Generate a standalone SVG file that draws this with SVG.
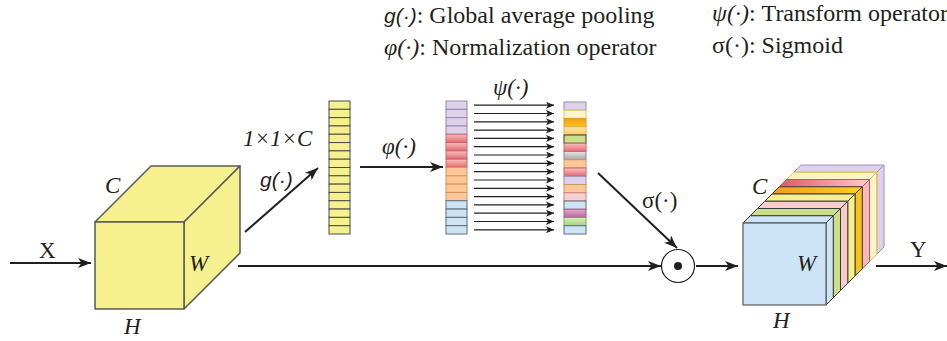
<svg xmlns="http://www.w3.org/2000/svg" width="947" height="341" viewBox="0 0 947 341">
<style>
.t{font-family:"Liberation Serif","Times New Roman",serif;font-size:23px;fill:#231f20}
.lg{font-size:24px}
.i{font-style:italic}
.s{font-family:"Liberation Sans",Arial,sans-serif;font-style:italic;font-size:21px;fill:#231f20}
.ln{stroke:#231f20;stroke-width:2;fill:none}
.sm{stroke:#231f20;stroke-width:1.2;fill:none}
.cube{fill:#f6f08f;stroke:#5a5a5a;stroke-width:1.5;stroke-linejoin:round}
.ey{fill:#f6f08f;stroke:#4a4a4a;stroke-width:1}
.cp{fill:#ddd3e8;stroke:#9d84b8;stroke-width:1}
.cr{fill:url(#gr);stroke:#c9686e;stroke-width:1}
.co{fill:#fdc898;stroke:#d0985e;stroke-width:1}
.cb{fill:#cde3f6;stroke:#5e6e7a;stroke-width:1}
.lay{stroke-width:1;stroke-linejoin:round}
</style>
<defs>
<marker id="ah" markerUnits="userSpaceOnUse" markerWidth="14" markerHeight="10" refX="13" refY="5" orient="auto">
<path d="M0,0 L13,5 L0,10 L3.5,5 z" fill="#231f20"/>
</marker>
<marker id="as" markerUnits="userSpaceOnUse" markerWidth="8" markerHeight="7" refX="8" refY="3.5" orient="auto">
<path d="M0,0 L8,3.5 L0,7 L2,3.5 z" fill="#231f20"/>
</marker>
<linearGradient id="gr" x1="0" y1="0" x2="0" y2="1"><stop offset="0" stop-color="#f7c2c2"/><stop offset="1" stop-color="#e7666c"/></linearGradient>
<linearGradient id="gor" x1="0" y1="0" x2="0" y2="1"><stop offset="0" stop-color="#f59c1a"/><stop offset="1" stop-color="#fcc51d"/></linearGradient>
<linearGradient id="glo" x1="0" y1="0" x2="0" y2="1"><stop offset="0" stop-color="#fde6a8"/><stop offset="1" stop-color="#f8cc6a"/></linearGradient>
<linearGradient id="ggy" x1="0" y1="0" x2="0" y2="1"><stop offset="0" stop-color="#e6e6e6"/><stop offset="1" stop-color="#a4a4a4"/></linearGradient>
<linearGradient id="gmg" x1="0" y1="0" x2="0" y2="1"><stop offset="0" stop-color="#e3a9cc"/><stop offset="1" stop-color="#b6679b"/></linearGradient>
<linearGradient id="ggn" x1="0" y1="0" x2="0" y2="1"><stop offset="0" stop-color="#dcefc6"/><stop offset="1" stop-color="#a6cf7a"/></linearGradient>
<linearGradient id="hor" x1="0" y1="0" x2="1" y2="0"><stop offset="0" stop-color="#f39a1c"/><stop offset="1" stop-color="#fcd21f"/></linearGradient>
<linearGradient id="hrd" x1="0" y1="0" x2="1" y2="0"><stop offset="0" stop-color="#e5585f"/><stop offset="1" stop-color="#f9cdcd"/></linearGradient>
</defs>

<!-- legend -->
<g id="legend">
<text x="384" y="23"><tspan class="s">g(·)</tspan><tspan class="t lg">: Global average pooling</tspan></text>
<text x="384" y="55" class="t lg"><tspan class="i">φ(·)</tspan>: Normalization operator</text>
<text x="712" y="21" class="t lg"><tspan class="i">ψ(·)</tspan>: Transform operator</text>
<text x="712" y="53" class="t lg">σ(·): Sigmoid</text>
</g>

<!-- input cube -->
<g id="cubeX">
<polygon class="cube" points="95,222 151,166 240,166 184,222"/>
<polygon class="cube" points="184,222 240,166 240,253 184,309"/>
<rect class="cube" x="95" y="222" width="89" height="87"/>
<text x="105" y="193" class="t i">C</text>
<text x="189" y="271" class="t i">W</text>
<text x="124" y="334" class="t i">H</text>
</g>

<!-- pooled vector -->
<g id="vecG">
<rect class="ey" x="329" y="101" width="21" height="8.3125"/>
<rect class="ey" x="329" y="109.3125" width="21" height="8.3125"/>
<rect class="ey" x="329" y="117.625" width="21" height="8.3125"/>
<rect class="ey" x="329" y="125.9375" width="21" height="8.3125"/>
<rect class="ey" x="329" y="134.25" width="21" height="8.3125"/>
<rect class="ey" x="329" y="142.5625" width="21" height="8.3125"/>
<rect class="ey" x="329" y="150.875" width="21" height="8.3125"/>
<rect class="ey" x="329" y="159.1875" width="21" height="8.3125"/>
<rect class="ey" x="329" y="167.5" width="21" height="8.3125"/>
<rect class="ey" x="329" y="175.8125" width="21" height="8.3125"/>
<rect class="ey" x="329" y="184.125" width="21" height="8.3125"/>
<rect class="ey" x="329" y="192.4375" width="21" height="8.3125"/>
<rect class="ey" x="329" y="200.75" width="21" height="8.3125"/>
<rect class="ey" x="329" y="209.0625" width="21" height="8.3125"/>
<rect class="ey" x="329" y="217.375" width="21" height="8.3125"/>
<rect class="ey" x="329" y="225.6875" width="21" height="8.3125"/>
<text x="243" y="146" class="t i">1×1×C</text>
</g>

<!-- normalized vector -->
<g id="vecPhi">
<rect class="cp" x="446" y="101" width="21" height="8.3125"/>
<rect class="cp" x="446" y="109.3125" width="21" height="8.3125"/>
<rect class="cp" x="446" y="117.625" width="21" height="8.3125"/>
<rect class="cp" x="446" y="125.9375" width="21" height="8.3125"/>
<rect class="cr" x="446" y="134.25" width="21" height="8.3125"/>
<rect class="cr" x="446" y="142.5625" width="21" height="8.3125"/>
<rect class="cr" x="446" y="150.875" width="21" height="8.3125"/>
<rect class="cr" x="446" y="159.1875" width="21" height="8.3125"/>
<rect class="co" x="446" y="167.5" width="21" height="8.3125"/>
<rect class="co" x="446" y="175.8125" width="21" height="8.3125"/>
<rect class="co" x="446" y="184.125" width="21" height="8.3125"/>
<rect class="co" x="446" y="192.4375" width="21" height="8.3125"/>
<rect class="cb" x="446" y="200.75" width="21" height="8.3125"/>
<rect class="cb" x="446" y="209.0625" width="21" height="8.3125"/>
<rect class="cb" x="446" y="217.375" width="21" height="8.3125"/>
<rect class="cb" x="446" y="225.6875" width="21" height="8.3125"/>
</g>

<!-- transformed vector -->
<g id="vecPsi">
<rect class="cp" x="564" y="102" width="22" height="8.25"/>
<rect x="564" y="110.25" width="22" height="8.25" fill="#fff3c8" stroke="#e4c96a"/>
<rect x="564" y="118.5" width="22" height="8.25" fill="url(#gor)" stroke="#e09a20"/>
<rect x="564" y="126.75" width="22" height="8.25" fill="url(#glo)" stroke="#e4b458"/>
<rect x="564" y="135" width="22" height="8.25" fill="#c9df8a" stroke="#3a3a3a"/>
<rect class="cr" x="564" y="143.25" width="22" height="8.25"/>
<rect x="564" y="151.5" width="22" height="8.25" fill="url(#ggy)" stroke="#8a8a8a"/>
<rect class="co" x="564" y="159.75" width="22" height="8.25" stroke="#3a3a3a"/>
<rect class="cr" x="564" y="168" width="22" height="8.25"/>
<rect class="cp" x="564" y="176.25" width="22" height="8.25"/>
<rect class="co" x="564" y="184.5" width="22" height="8.25" stroke="#3a3a3a"/>
<rect x="564" y="192.75" width="22" height="8.25" fill="#f9d0d0" stroke="#d08080"/>
<rect class="cb" x="564" y="201" width="22" height="8.25"/>
<rect x="564" y="209.25" width="22" height="8.25" fill="url(#gmg)" stroke="#a85c8c"/>
<rect x="564" y="217.5" width="22" height="8.25" fill="url(#ggn)" stroke="#7aa858"/>
<rect class="cb" x="564" y="225.75" width="22" height="8.25" stroke="#3a3a3a"/>
</g>

<!-- multiply node -->
<g id="mult">
<circle cx="678" cy="266" r="16.5" fill="#fff" stroke="#231f20" stroke-width="1.2"/>
<circle cx="678" cy="266" r="4" fill="#231f20"/>
</g>

<!-- output cube -->
<g id="cubeY">
<polygon class="lay" points="793.75,172.25 876.75,172.25 884,165 801,165" fill="#ddd3e8" stroke="#a88cc4"/>
<polygon class="lay" points="876.75,172.25 884,165 884,247 876.75,254.25" fill="#ddd3e8" stroke="#a88cc4"/>
<polygon class="lay" points="786.5,179.5 869.5,179.5 876.75,172.25 793.75,172.25" fill="#fff3c8" stroke="#e4c040"/>
<polygon class="lay" points="869.5,179.5 876.75,172.25 876.75,254.25 869.5,261.5" fill="#fff3c8" stroke="#e4c040"/>
<polygon class="lay" points="779.25,186.75 862.25,186.75 869.5,179.5 786.5,179.5" fill="url(#hrd)" stroke="#c9525a"/>
<polygon class="lay" points="862.25,186.75 869.5,179.5 869.5,261.5 862.25,268.75" fill="#f7b9b9" stroke="#c9525a"/>
<polygon class="lay" points="772,194 855,194 862.25,186.75 779.25,186.75" fill="url(#hor)" stroke="#3a3a3a"/>
<polygon class="lay" points="855,194 862.25,186.75 862.25,268.75 855,276" fill="#fbc21d" stroke="#3a3a3a"/>
<polygon class="lay" points="764.75,201.25 847.75,201.25 855,194 772,194" fill="#f6f08f" stroke="#3a3a3a"/>
<polygon class="lay" points="847.75,201.25 855,194 855,276 847.75,283.25" fill="#f6f08f" stroke="#3a3a3a"/>
<polygon class="lay" points="757.5,208.5 840.5,208.5 847.75,201.25 764.75,201.25" fill="#f9cbcb" stroke="#3a3a3a"/>
<polygon class="lay" points="840.5,208.5 847.75,201.25 847.75,283.25 840.5,290.5" fill="#f9cbcb" stroke="#3a3a3a"/>
<polygon class="lay" points="750.25,215.75 833.25,215.75 840.5,208.5 757.5,208.5" fill="#c9df8a" stroke="#3a3a3a"/>
<polygon class="lay" points="833.25,215.75 840.5,208.5 840.5,290.5 833.25,297.75" fill="#c9df8a" stroke="#3a3a3a"/>
<polygon class="lay" points="743,223 826,223 833.25,215.75 750.25,215.75" fill="#cde3f6" stroke="#3a3a3a"/>
<polygon class="lay" points="826,223 833.25,215.75 833.25,297.75 826,305" fill="#cde3f6" stroke="#3a3a3a"/>
<rect x="743" y="223" width="83" height="82" fill="#cde3f6" stroke="#5a5a5a" stroke-width="1.2"/>
<text x="752" y="194" class="t i">C</text>
<text x="797" y="271" class="t i">W</text>
<text x="773" y="328" class="t i">H</text>
</g>

<!-- connectors -->
<g id="connectors">
<line class="ln" x1="10" y1="263" x2="91" y2="263" marker-end="url(#ah)"/>
<line class="ln" x1="238" y1="266" x2="661" y2="266" marker-end="url(#ah)"/>
<line class="ln" x1="245" y1="232" x2="318" y2="168" marker-end="url(#ah)"/>
<line class="ln" x1="360" y1="167" x2="443" y2="167" marker-end="url(#ah)"/>
<line class="ln" x1="598" y1="173" x2="677" y2="248" marker-end="url(#ah)"/>
<line class="ln" x1="696" y1="266" x2="738" y2="266" marker-end="url(#ah)"/>
<line class="ln" x1="876" y1="266" x2="947" y2="266" marker-end="url(#ah)"/>
<line class="sm" x1="474" y1="105.2" x2="554" y2="105.2" marker-end="url(#as)"/>
<line class="sm" x1="474" y1="113.5" x2="554" y2="113.5" marker-end="url(#as)"/>
<line class="sm" x1="474" y1="121.8" x2="554" y2="121.8" marker-end="url(#as)"/>
<line class="sm" x1="474" y1="130.1" x2="554" y2="130.1" marker-end="url(#as)"/>
<line class="sm" x1="474" y1="138.4" x2="554" y2="138.4" marker-end="url(#as)"/>
<line class="sm" x1="474" y1="146.7" x2="554" y2="146.7" marker-end="url(#as)"/>
<line class="sm" x1="474" y1="155.0" x2="554" y2="155.0" marker-end="url(#as)"/>
<line class="sm" x1="474" y1="163.3" x2="554" y2="163.3" marker-end="url(#as)"/>
<line class="sm" x1="474" y1="171.7" x2="554" y2="171.7" marker-end="url(#as)"/>
<line class="sm" x1="474" y1="180.0" x2="554" y2="180.0" marker-end="url(#as)"/>
<line class="sm" x1="474" y1="188.3" x2="554" y2="188.3" marker-end="url(#as)"/>
<line class="sm" x1="474" y1="196.6" x2="554" y2="196.6" marker-end="url(#as)"/>
<line class="sm" x1="474" y1="204.9" x2="554" y2="204.9" marker-end="url(#as)"/>
<line class="sm" x1="474" y1="213.2" x2="554" y2="213.2" marker-end="url(#as)"/>
<line class="sm" x1="474" y1="221.5" x2="554" y2="221.5" marker-end="url(#as)"/>
<line class="sm" x1="474" y1="229.8" x2="554" y2="229.8" marker-end="url(#as)"/>
<text x="39" y="258" class="t">X</text>
<text x="910" y="257" class="t">Y</text>
<text x="260" y="187" class="s">g(·)</text>
<text x="382" y="154" class="t i">φ(·)</text>
<text x="493" y="95" class="t i">ψ(·)</text>
<text x="642" y="208" class="t">σ(·)</text>
</g>
</svg>
